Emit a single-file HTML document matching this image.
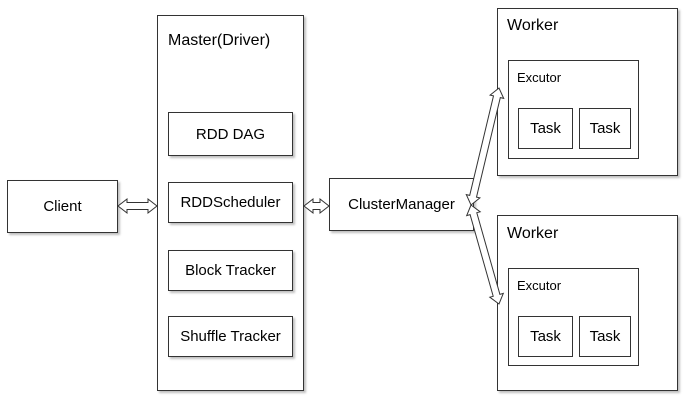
<!DOCTYPE html>
<html><head><meta charset="utf-8"><style>
body{margin:0;background:#fff;width:683px;height:400px;position:relative;overflow:hidden;font-family:"Liberation Sans",sans-serif;color:#000}
.b{position:absolute;box-sizing:border-box;border:1px solid #333;background:#fff;box-shadow:2px 2px 2px rgba(0,0,0,0.25)}
.c{display:flex;align-items:center;justify-content:center;font-size:15px}
.t{position:absolute;font-size:16px}
.s{position:absolute;font-size:13px}
svg{position:absolute;left:0;top:0}
</style></head><body>
<div class="b c" style="left:7px;top:180px;width:111px;height:53px">Client</div>
<div class="b" style="left:157px;top:15px;width:147px;height:376px"></div>
<div class="t" style="left:168px;top:32px">Master(Driver)</div>
<div class="b c" style="left:168px;top:112px;width:125px;height:44px">RDD DAG</div>
<div class="b c" style="left:168px;top:182px;width:125px;height:41px">RDDScheduler</div>
<div class="b c" style="left:168px;top:250px;width:125px;height:41px">Block Tracker</div>
<div class="b c" style="left:168px;top:316px;width:125px;height:41px">Shuffle Tracker</div>
<div class="b c" style="left:329px;top:178px;width:145px;height:53px">ClusterManager</div>

<div class="b" style="left:497px;top:8px;width:181px;height:168px"></div>
<div class="t" style="left:507px;top:17px">Worker</div>
<div class="b" style="left:508px;top:60px;width:131px;height:99px;box-shadow:none"></div>
<div class="s" style="left:517px;top:70px">Excutor</div>
<div class="b c" style="left:518px;top:108px;width:55px;height:41px;box-shadow:none">Task</div>
<div class="b c" style="left:579px;top:108px;width:52px;height:41px;box-shadow:none">Task</div>

<div class="b" style="left:497px;top:215px;width:181px;height:176px"></div>
<div class="t" style="left:507px;top:225px">Worker</div>
<div class="b" style="left:508px;top:268px;width:131px;height:98px;box-shadow:none"></div>
<div class="s" style="left:517px;top:278px">Excutor</div>
<div class="b c" style="left:518px;top:316px;width:55px;height:41px;box-shadow:none">Task</div>
<div class="b c" style="left:579px;top:316px;width:52px;height:41px;box-shadow:none">Task</div>

<svg id="s" width="683" height="400"></svg>
<script>
function arr(x1,y1,x2,y2){
 var dx=x2-x1,dy=y2-y1,L=Math.hypot(dx,dy),ux=dx/L,uy=dy/L,nx=-uy,ny=ux;
 var w=3.5,hw=7,hl=9,p=[];
 function pt(a,b){p.push((x1+ux*a+nx*b).toFixed(1)+","+(y1+uy*a+ny*b).toFixed(1));}
 pt(0,0);pt(hl,hw);pt(hl,w);pt(L-hl,w);pt(L-hl,hw);pt(L,0);pt(L-hl,-hw);pt(L-hl,-w);pt(hl,-w);pt(hl,-hw);
 return '<polygon points="'+p.join(' ')+'" fill="#fff" stroke="#333" stroke-width="1"/>';
}
document.getElementById('s').innerHTML=arr(118,206,157,206)+arr(304,206,329,206)+arr(471,205,499,88)+arr(471,205,499,304);
</script>
</body></html>
